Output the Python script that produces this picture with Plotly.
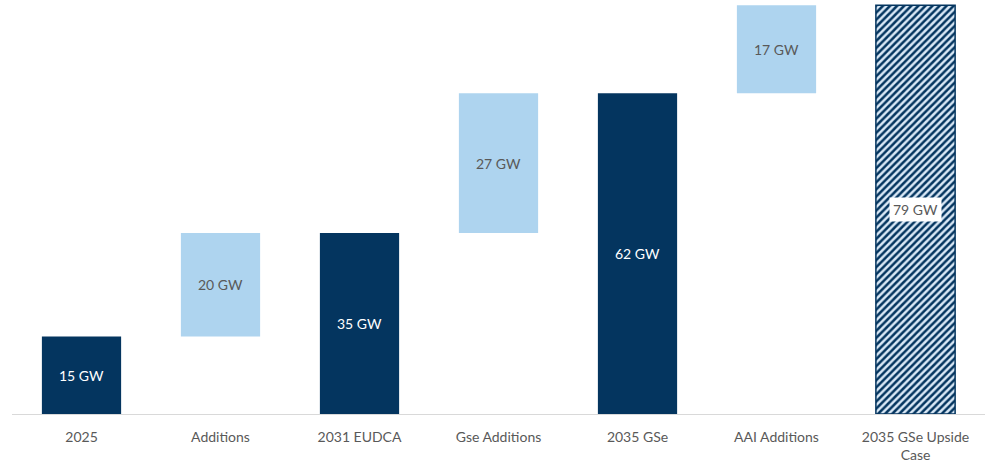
import plotly.graph_objects as go

categories = ["2025", "Additions", "2031 EUDCA", "Gse Additions", "2035 GSe",
              "AAI Additions", "2035 GSe Upside<br>Case"]
values = [15, 20, 35, 27, 62, 17, 79]
kinds = ["total", "step", "total", "step", "total", "step", "upside"]
labels = ["15 GW", "20 GW", "35 GW", "27 GW", "62 GW", "17 GW", "79 GW"]

NAVY = "#04355F"
LIGHT = "#AED4EF"
GREY = "#595959"
FONT = "Lato"

# floating bars: steps start on top of the previous running total
bases = []
running = 0
for v, k in zip(values, kinds):
    if k == "step":
        bases.append(running)
        running += v
    else:
        bases.append(0)
        running = v

pos = list(range(len(categories)))

fig = go.Figure()

solid_idx = [i for i, k in enumerate(kinds) if k != "upside"]
fig.add_trace(go.Bar(
    x=[pos[i] for i in solid_idx],
    y=[values[i] for i in solid_idx],
    base=[bases[i] for i in solid_idx],
    marker=dict(color=[NAVY if kinds[i] == "total" else LIGHT for i in solid_idx],
                line=dict(width=0)),
    width=0.57,
    hoverinfo="skip",
))

up_idx = [i for i, k in enumerate(kinds) if k == "upside"]
fig.add_trace(go.Bar(
    x=[pos[i] for i in up_idx],
    y=[values[i] for i in up_idx],
    base=[bases[i] for i in up_idx],
    marker=dict(color=NAVY,
                line=dict(color=NAVY, width=1.5),
                pattern=dict(shape="/", fgcolor=NAVY, bgcolor="#D9E8F6",
                             size=5, solidity=0.5, fillmode="replace")),
    width=0.57,
    hoverinfo="skip",
))

for p, v, b, k, t in zip(pos, values, bases, kinds, labels):
    fig.add_annotation(
        x=p, y=b + v / 2, text=t, showarrow=False,
        font=dict(family=FONT, size=14, color="white" if k == "total" else GREY),
        bgcolor="white" if k == "upside" else "rgba(0,0,0,0)",
        borderpad=3,
    )

fig.update_layout(
    width=987, height=466,
    margin=dict(l=12, r=2, t=0, b=52),
    paper_bgcolor="white", plot_bgcolor="white",
    showlegend=False, barmode="overlay",
    font=dict(family=FONT, size=14, color=GREY),
    xaxis=dict(range=[-0.5, len(categories) - 0.5],
               tickmode="array", tickvals=pos, ticktext=categories,
               showline=True, linecolor="#D9D9D9", linewidth=1,
               ticks="outside", ticklen=10, tickcolor="rgba(0,0,0,0)",
               showgrid=False, zeroline=False,
               tickfont=dict(family=FONT, size=14, color=GREY)),
    yaxis=dict(range=[0, 80], visible=False, showgrid=False, zeroline=False),
)

fig.write_html("out.html")
